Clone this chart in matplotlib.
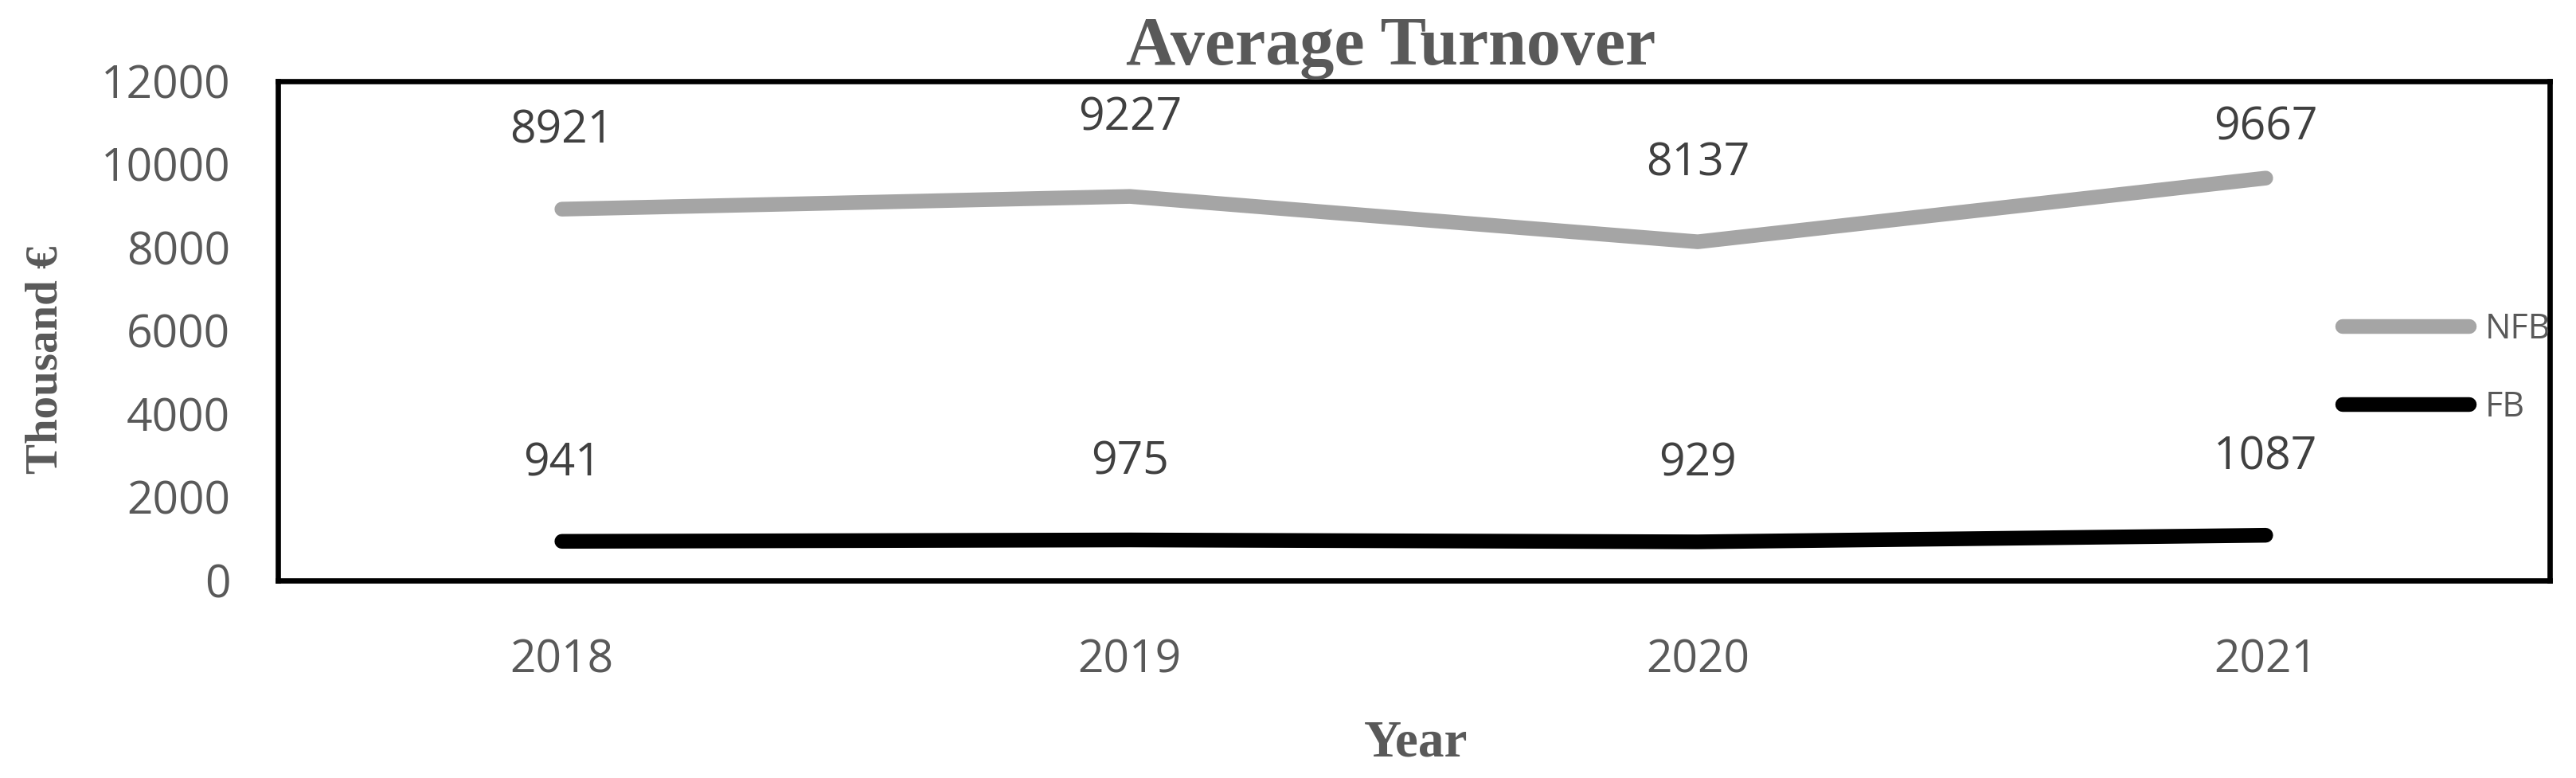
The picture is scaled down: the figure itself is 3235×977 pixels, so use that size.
import matplotlib
matplotlib.use("Agg")
import matplotlib.pyplot as plt

years = ["2018", "2019", "2020", "2021"]
nfb = [8921, 9227, 8137, 9667]
fb = [941, 975, 929, 1087]
yticks = [0, 2000, 4000, 6000, 8000, 10000, 12000]

# label offsets (points above the point) - style only
nfb_off = [70, 70, 70, 45]
fb_off = [70, 70, 70, 70]

GRAY_TXT = "#595959"
LBL_TXT = "#404040"
NFB_C = "#A5A5A5"
FB_C = "#000000"
SANS = ["Open Sans", "DejaVu Sans"]
SERIF = ["Liberation Serif", "DejaVu Serif"]

W, H = 3235, 977
L, R, T, B = 349, 3202, 101.7, 729
fig = plt.figure(figsize=(W / 100, H / 100), dpi=100)
ax = fig.add_axes([L / W, 1 - B / H, (R - L) / W, (B - T) / H])

x = list(range(len(years)))
ax.plot(x, nfb, color=NFB_C, lw=13.3, solid_capstyle="round", solid_joinstyle="round", label="NFB")
ax.plot(x, fb, color=FB_C, lw=13.3, solid_capstyle="round", solid_joinstyle="round", label="FB")

for xi, v, o in zip(x, nfb, nfb_off):
    ax.annotate(str(v), (xi, v), xytext=(0, o), textcoords="offset points",
                ha="center", va="center", fontsize=41, color=LBL_TXT, family=SANS)
for xi, v, o in zip(x, fb, fb_off):
    ax.annotate(str(v), (xi, v), xytext=(0, o), textcoords="offset points",
                ha="center", va="center", fontsize=41, color=LBL_TXT, family=SANS)

ax.set_xlim(-0.5, 3.5)
ax.set_ylim(0, 12000)
ax.set_xticks(x)
ax.set_xticklabels(years)
ax.set_yticks(yticks)
ax.set_yticklabels([str(t) for t in yticks])
ax.tick_params(axis="both", length=0, labelsize=41, labelcolor=GRAY_TXT)
ax.tick_params(axis="x", pad=52)
ax.tick_params(axis="y", pad=43)
for lab in ax.get_xticklabels() + ax.get_yticklabels():
    lab.set_family(SANS)

for s in ax.spines.values():
    s.set_color("black")
    s.set_linewidth(4.8)

leg = ax.legend(loc="center left",
                bbox_to_anchor=((2942 - L) / (R - L), (B - 462.5) / (B - T)),
                frameon=False, prop={"family": SANS, "size": 31}, handlelength=3.7,
                handletextpad=0.45, labelspacing=1.25, borderaxespad=0, borderpad=0)
for t in leg.get_texts():
    t.set_color(GRAY_TXT)

fig.text(1747 / W, 1 - 60 / H, "Average Turnover", ha="center", va="center",
         fontsize=62, fontweight="bold", color=GRAY_TXT, family=SERIF)
fig.text(1778 / W, 1 - 934 / H, "Year", ha="center", va="center",
         fontsize=47, fontweight="bold", color=GRAY_TXT, family=SERIF)
fig.text(58 / W, 1 - 452 / H, "Thousand €", ha="center", va="center", rotation=90,
         fontsize=41, fontweight="bold", color=GRAY_TXT, family=SERIF)

fig.savefig("out.png", dpi=100, facecolor="white")
